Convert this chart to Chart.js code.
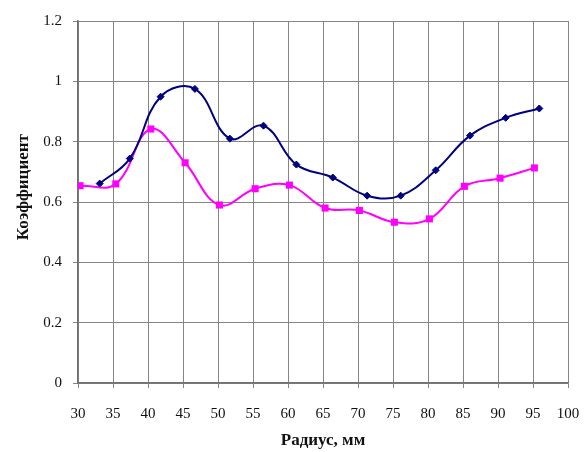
<!DOCTYPE html>
<html>
<head>
<meta charset="utf-8">
<title>Коэффициент</title>
<script src="https://cdn.jsdelivr.net/npm/chart.js@4/dist/chart.umd.min.js"></script>
<style>
  body { margin: 0; background: #fff; }
</style>
</head>
<body>
<canvas id="myChart" width="584" height="452"></canvas>
<script>
// radius values (mm) and coefficients for both series
const blueX = [33.1, 37.4, 41.8, 46.7, 51.7, 56.5, 61.2, 66.4, 71.3, 76.1, 81.1, 86.0, 91.1, 95.9];
const blueY = [0.661, 0.744, 0.949, 0.975, 0.81, 0.853, 0.724, 0.681, 0.621, 0.621, 0.705, 0.82, 0.879, 0.91];
const pinkX = [30.3, 35.4, 40.4, 45.3, 50.2, 55.3, 60.2, 65.3, 70.2, 75.2, 80.2, 85.2, 90.3, 95.2];
const pinkY = [0.654, 0.66, 0.842, 0.73, 0.59, 0.644, 0.656, 0.58, 0.572, 0.533, 0.544, 0.652, 0.679, 0.713];
const xTicks = [30, 35, 40, 45, 50, 55, 60, 65, 70, 75, 80, 85, 90, 95, 100];
const yTicks = ['0', '0.2', '0.4', '0.6', '0.8', '1', '1.2'];

const toPoints = (xs, ys) => xs.map((x, i) => ({ x: x, y: ys[i] }));

const serif = "'Liberation Serif', 'Times New Roman', serif";
const gridColor = '#858585';

const ctx = document.getElementById('myChart');

new Chart(ctx, {
  type: 'line',
  data: {
    datasets: [{
      label: 'blue',
      data: toPoints(blueX, blueY),
      borderColor: '#000080',
      backgroundColor: '#000080',
      borderWidth: 2,
      tension: 0.4,
      pointStyle: 'rectRot',
      pointRadius: 3.5,
      pointBorderWidth: 1
    }, {
      label: 'pink',
      data: toPoints(pinkX, pinkY),
      borderColor: '#ff00ff',
      backgroundColor: '#ff00ff',
      borderWidth: 2,
      tension: 0.4,
      pointStyle: 'rect',
      pointRadius: 5,
      pointBorderWidth: 0
    }]
  },
  options: {
    responsive: false,
    animation: false,
    layout: {
      padding: { left: 0, right: 16, top: 21, bottom: 0 }
    },
    scales: {
      x: {
        type: 'linear',
        min: 30,
        max: 100,
        // fixed axis height; edge labels are allowed to hang into the layout padding
        afterFit: scale => {
          scale.height = 69;
          scale.paddingLeft = 0;
          scale.paddingRight = 0;
        },
        afterBuildTicks: scale => { scale.ticks = xTicks.map(v => ({ value: v })); },
        grid: { color: gridColor, lineWidth: 1, tickLength: 5 },
        border: { color: '#707070', width: 1.5 },
        ticks: {
          padding: 17,
          color: '#111',
          font: { family: serif, size: 15 },
          maxRotation: 0
        },
        title: {
          display: true,
          text: 'Радиус, мм',
          color: '#111',
          font: { family: serif, size: 17, weight: 'bold' },
          padding: { top: 0, bottom: 1 }
        }
      },
      y: {
        min: 0,
        max: 1.2,
        afterFit: scale => { scale.width = 78; },
        afterBuildTicks: scale => { scale.ticks = yTicks.map(v => ({ value: parseFloat(v) })); },
        grid: { color: gridColor, lineWidth: 1, tickLength: 5 },
        border: { color: '#707070', width: 1.5 },
        ticks: {
          padding: 11,
          color: '#111',
          font: { family: serif, size: 15 },
          callback: (value, index) => yTicks[index]
        },
        title: {
          display: true,
          // leading spaces lift the rotated label a little above the axis middle
          text: '       Коэффициент',
          color: '#111',
          font: { family: serif, size: 17, weight: 'bold' },
          padding: { top: 13, bottom: 0 }
        }
      }
    },
    plugins: {
      legend: { display: false },
      tooltip: { enabled: false }
    }
  }
});
</script>
</body>
</html>
